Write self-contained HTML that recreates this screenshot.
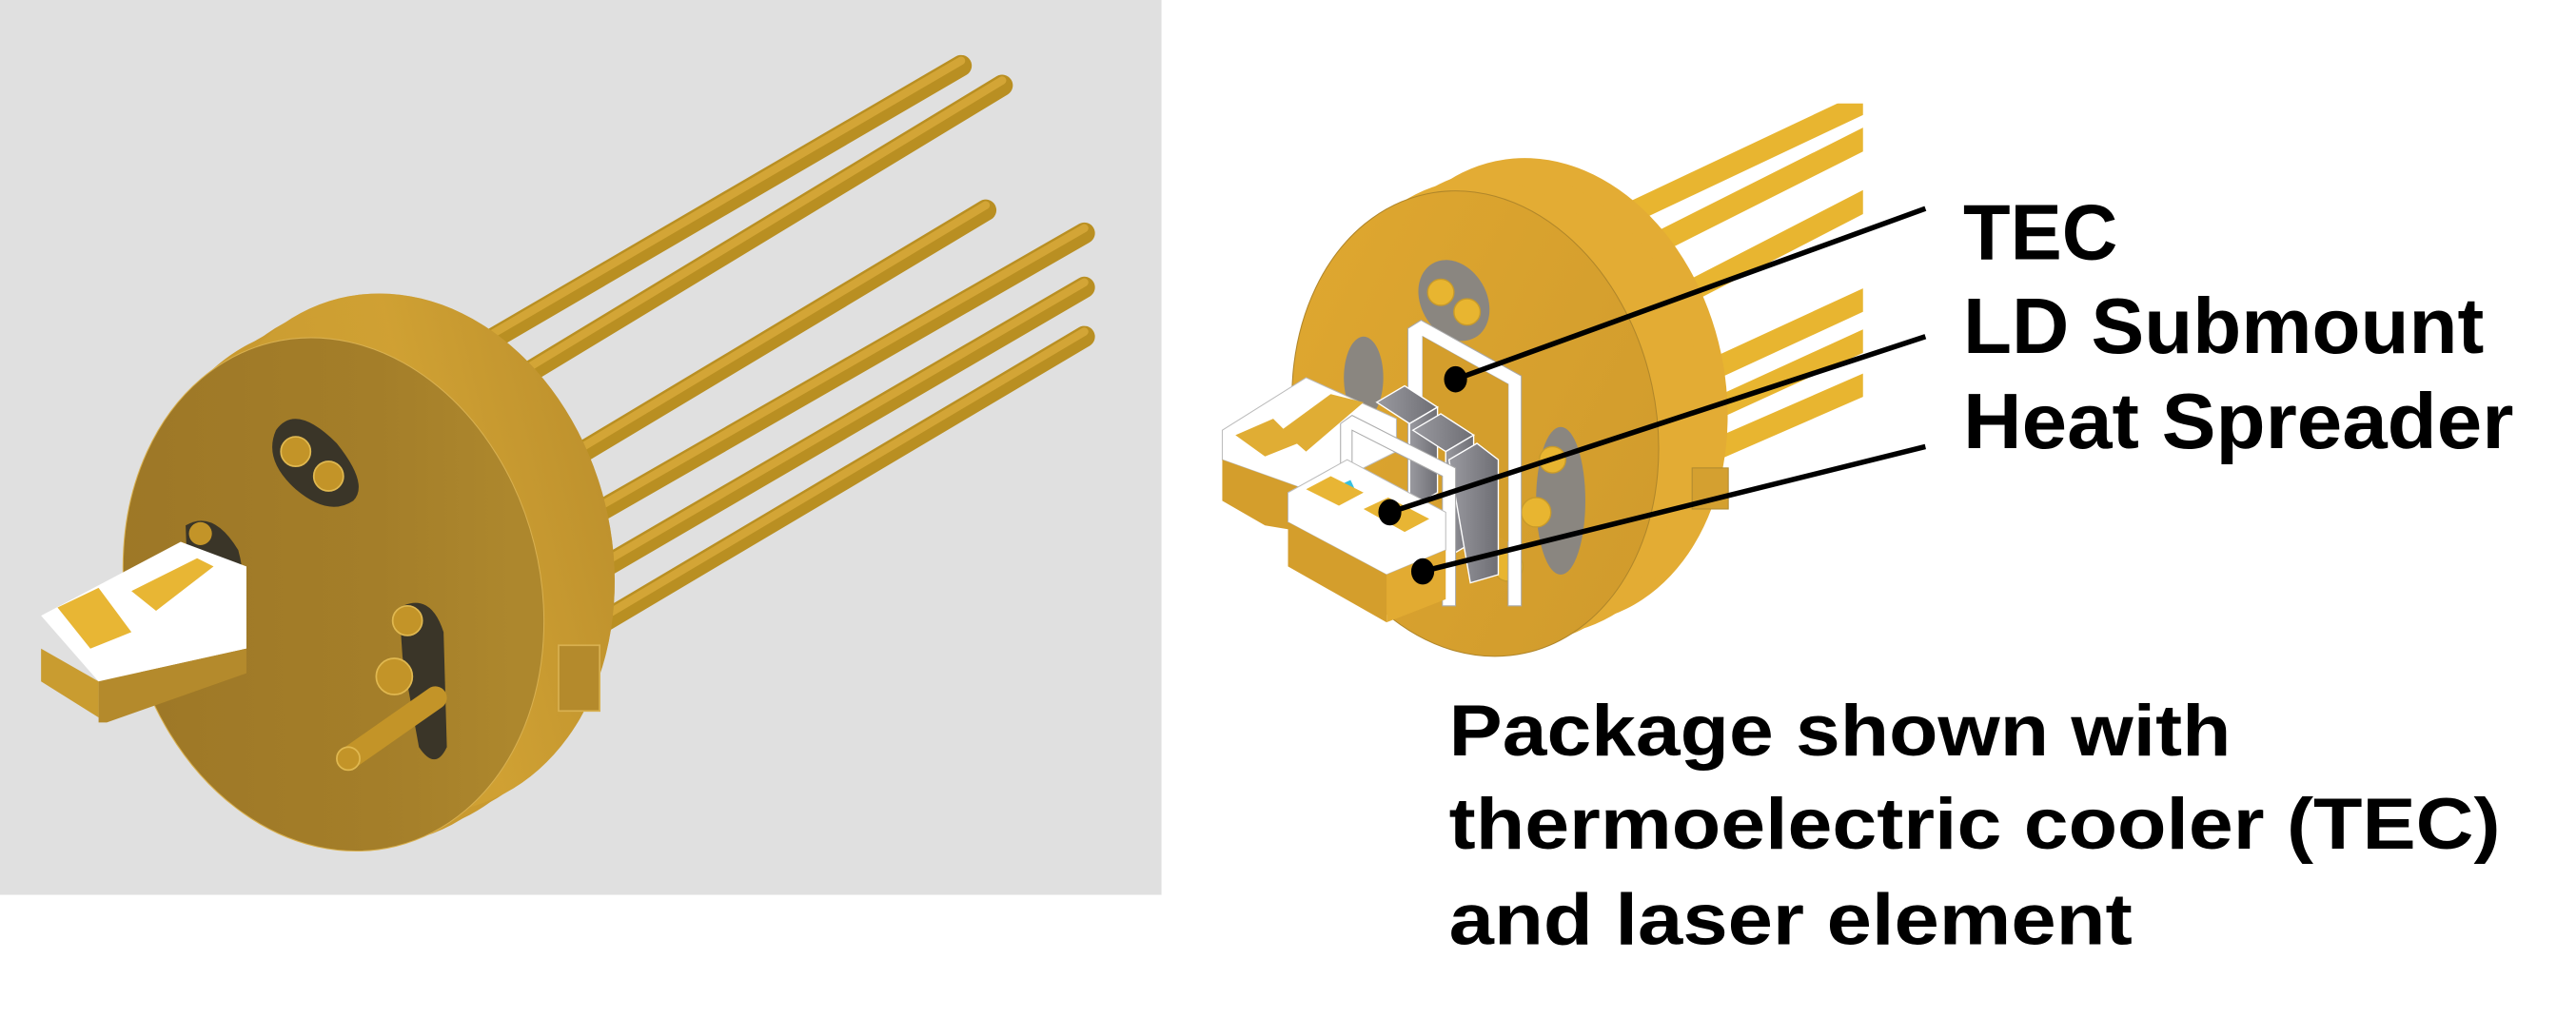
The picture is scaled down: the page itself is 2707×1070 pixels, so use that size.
<!DOCTYPE html>
<html><head><meta charset="utf-8"><style>
html,body{margin:0;padding:0;background:#fff;}
svg{display:block;}
text{font-family:"Liberation Sans",sans-serif;font-weight:bold;fill:#000;}
</style></head><body>
<svg width="2707" height="1070" viewBox="0 0 1568 620" preserveAspectRatio="none" xmlns="http://www.w3.org/2000/svg">
<defs>
<linearGradient id="face" x1="0" y1="0" x2="1" y2="0.3"><stop offset="0" stop-color="#9c7626"/><stop offset="0.7" stop-color="#a47e29"/><stop offset="1" stop-color="#ad872d"/></linearGradient>
<linearGradient id="rim" x1="0" y1="0" x2="1" y2="0"><stop offset="0" stop-color="#c89a30"/><stop offset="0.6" stop-color="#d4a535"/><stop offset="1" stop-color="#b88d2c"/></linearGradient>
<linearGradient id="rface" x1="0" y1="0" x2="1" y2="1"><stop offset="0" stop-color="#e0a830"/><stop offset="1" stop-color="#cf9a2c"/></linearGradient>
<linearGradient id="fin" x1="0" y1="0" x2="1" y2="0"><stop offset="0" stop-color="#9a9aa0"/><stop offset="1" stop-color="#6e6e74"/></linearGradient>
<clipPath id="rc"><rect x="0" y="63" width="1134" height="560"/></clipPath>
</defs>
<rect x="0" y="0" width="707" height="545" fill="#e0e0e0"/>
<g stroke-linecap="round" fill="none">
<g stroke="#b98f22" stroke-width="13">
<line x1="285" y1="215" x2="585" y2="40"/>
<line x1="300" y1="240" x2="610" y2="52"/>
<line x1="330" y1="290" x2="600" y2="128"/>
<line x1="350" y1="320" x2="660" y2="142"/>
<line x1="360" y1="350" x2="660" y2="175"/>
<line x1="365" y1="380" x2="660" y2="205"/>
</g>
<g stroke="#d3a536" stroke-width="5">
<line x1="285" y1="212" x2="585" y2="37"/>
<line x1="300" y1="237" x2="610" y2="49"/>
<line x1="330" y1="287" x2="600" y2="125"/>
<line x1="350" y1="317" x2="660" y2="139"/>
<line x1="360" y1="347" x2="660" y2="172"/>
<line x1="365" y1="377" x2="660" y2="202"/>
</g>
</g>
<g fill="#c99a30">
<ellipse cx="245" cy="337" rx="127" ry="160" transform="rotate(-14 245 337)"/>
<ellipse cx="235" cy="343" rx="127" ry="160" transform="rotate(-14 235 343)"/>
<ellipse cx="224" cy="350" rx="127" ry="160" transform="rotate(-14 224 350)"/>
<ellipse cx="213" cy="356" rx="127" ry="160" transform="rotate(-14 213 356)"/>
</g>
<ellipse cx="245" cy="337" rx="127" ry="160" transform="rotate(-14 245 337)" fill="url(#rim)" opacity="0.6"/>
<ellipse cx="203" cy="362" rx="126" ry="158" transform="rotate(-14 203 362)" fill="url(#face)" stroke="#d8b050" stroke-width="0.6"/>
<rect x="340" y="393" width="25" height="40" fill="#b48a2c" stroke="#d8b050" stroke-width="1"/>
<path d="M168,262 Q180,245 205,270 Q225,295 215,305 Q200,315 180,298 Q160,280 168,262Z" fill="#3a3528"/>
<path d="M113,320 Q130,310 145,335 Q152,360 140,370 L115,375 Z" fill="#3a3528"/>
<path d="M243,370 Q262,360 270,385 L272,455 Q265,470 255,455 L245,400Z" fill="#3a3528"/>
<g fill="#c39428" stroke="#e0b850" stroke-width="1">
<circle cx="180" cy="275" r="9"/><circle cx="200" cy="290" r="9"/>
<circle cx="248" cy="378" r="9"/><circle cx="240" cy="412" r="11"/>
<line x1="215" y1="460" x2="265" y2="425" stroke="#c39428" stroke-width="14" stroke-linecap="round"/>
<circle cx="212" cy="462" r="7"/>
</g>
<polygon points="25,375 110,330 150,345 150,395 60,415" fill="#ffffff"/>
<polygon points="35,370 60,358 80,385 55,395" fill="#e8b634"/>
<path d="M80,360 L120,340 L130,345 L95,372Z" fill="#e8b634"/>
<polygon points="60,415 150,395 150,410 65,440 60,440" fill="#b48a2c"/>
<polygon points="25,395 25,415 60,437 60,415" fill="#c99c30"/>
<circle cx="122" cy="325" r="7" fill="#c39428"/>
<g clip-path="url(#rc)" stroke-linecap="round" fill="none">
<g stroke="#e8b530" stroke-width="13">
<line x1="960" y1="145" x2="1140" y2="60"/>
<line x1="975" y1="165" x2="1140" y2="82"/>
<line x1="985" y1="200" x2="1140" y2="120"/>
<line x1="1010" y1="240" x2="1140" y2="180"/>
<line x1="1020" y1="260" x2="1140" y2="205"/>
<line x1="1030" y1="280" x2="1140" y2="232"/>
</g>
</g>
<g fill="#e3ac34">
<ellipse cx="940" cy="238" rx="110" ry="143" transform="rotate(-12 940 238)"/>
<ellipse cx="926" cy="245" rx="110" ry="143" transform="rotate(-12 926 245)"/>
<ellipse cx="912" cy="251" rx="110" ry="143" transform="rotate(-12 912 251)"/>
</g>
<ellipse cx="898" cy="258" rx="110" ry="143" transform="rotate(-12 898 258)" fill="url(#rface)" stroke="#b0862a" stroke-width="0.6"/>
<rect x="1030" y="285" width="22" height="25" fill="#d4a030" stroke="#b08a30" stroke-width="0.6"/>
<ellipse cx="885" cy="183" rx="20" ry="26" transform="rotate(-30 885 183)" fill="#8a8680"/>
<ellipse cx="830" cy="230" rx="12" ry="25" fill="#8a8680"/>
<ellipse cx="950" cy="305" rx="15" ry="45" fill="#8a8680"/>
<g fill="#e8b530" stroke="#c89a2a" stroke-width="0.8">
<circle cx="877" cy="178" r="8"/><circle cx="893" cy="190" r="8"/>
<circle cx="945" cy="280" r="8"/><circle cx="935" cy="312" r="9"/><circle cx="918" cy="345" r="9"/>
</g>
<polygon points="857,200 865,195 926,229 926,369 918,369 918,234 866,205 866,330 857,330" fill="#ffffff" stroke="#aaa" stroke-width="0.6"/>
<polygon points="866,205 918,234 918,330 866,300" fill="#d49e2c"/>
<g fill="url(#fin)" stroke="#fff" stroke-width="0.8">
<polygon points="838,245 855,235 875,248 858,258"/>
<polygon points="858,258 875,248 875,300 858,310"/>
<polygon points="860,262 877,252 897,265 880,275"/>
<polygon points="880,275 897,265 897,330 880,340"/>
<polygon points="882,280 899,270 912,280 912,350 895,355"/>
</g>
<polygon points="744,262 795,230 850,255 850,275 800,300 744,280" fill="#fff" stroke="#bbb" stroke-width="0.6"/>
<polygon points="752,265 775,255 790,270 770,278" fill="#e0ad34"/>
<path d="M780,262 L810,240 L830,245 L795,275Z" fill="#e0ad34"/>
<polygon points="744,280 800,300 800,325 770,320 744,305" fill="#d49e2c"/>
<polygon points="816,258 823,253 886,285 886,369 878,369 878,290 823,262 823,300 816,300" fill="#fff" stroke="#aaa" stroke-width="0.6"/>
<polygon points="784,300 820,280 880,312 880,335 844,350 784,318" fill="#fff" stroke="#bbb" stroke-width="0.6"/>
<rect x="810" y="295" width="14" height="7" fill="#35c0e0" transform="rotate(-25 817 298)"/>
<polygon points="795,298 810,290 830,300 815,308" fill="#e8b534"/>
<polygon points="830,310 845,303 870,316 855,324" fill="#e8b534"/>
<polygon points="784,318 844,350 844,379 784,345" fill="#d49e2c"/>
<polygon points="844,350 880,335 880,365 844,379" fill="#e2ab32"/>
<g stroke="#000" stroke-width="3.2" fill="#000">
<line x1="1172" y1="127" x2="886" y2="231"/>
<line x1="1172" y1="205" x2="846" y2="312"/>
<line x1="1172" y1="272" x2="866" y2="348"/>
<ellipse cx="886" cy="231" rx="7" ry="8" stroke="none"/>
<ellipse cx="846" cy="312" rx="7" ry="8" stroke="none"/>
<ellipse cx="866" cy="348" rx="7" ry="8" stroke="none"/>
</g>
<text x="1195" y="158" font-size="48" textLength="94" lengthAdjust="spacingAndGlyphs">TEC</text>
<text x="1195" y="215" font-size="48" textLength="317" lengthAdjust="spacingAndGlyphs">LD Submount</text>
<text x="1195" y="273" font-size="48" textLength="335" lengthAdjust="spacingAndGlyphs">Heat Spreader</text>
<text x="882" y="460" font-size="44" textLength="476" lengthAdjust="spacingAndGlyphs">Package shown with</text>
<text x="882" y="517" font-size="44" textLength="640" lengthAdjust="spacingAndGlyphs">thermoelectric cooler (TEC)</text>
<text x="882" y="575" font-size="44" textLength="416" lengthAdjust="spacingAndGlyphs">and laser element</text>
</svg>
</body></html>
